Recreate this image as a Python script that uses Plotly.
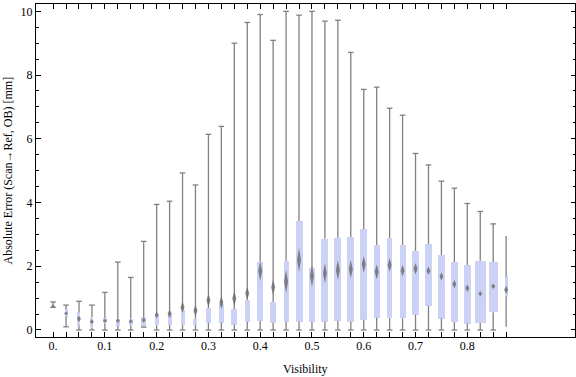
import plotly.graph_objects as go

# ---- data ----
visibility = [0.0, 0.025, 0.05, 0.075, 0.1, 0.125, 0.15, 0.175, 0.2, 0.225, 0.25, 0.275,
              0.3, 0.325, 0.35, 0.375, 0.4, 0.425, 0.45, 0.475, 0.5, 0.525, 0.55, 0.575,
              0.6, 0.625, 0.65, 0.675, 0.7, 0.725, 0.75, 0.775, 0.8, 0.825, 0.85, 0.875]
whisker_high = [0.88, 0.78, 0.90, 0.78, 1.18, 2.13, 1.65, 2.78, 3.94, 4.04, 4.93, 4.55,
                6.14, 6.39, 9.00, 9.65, 9.90, 9.09, 10.0, 9.88, 10.0, 9.69, 9.72, 8.71,
                7.55, 7.62, 6.96, 6.74, 5.54, 5.18, 4.67, 4.45, 3.97, 3.72, 3.33, 2.95]
quart_high = [0.78, 0.65, 0.56, 0.39, 0.38, 0.35, 0.35, 0.40, 0.50, 0.52, 0.63, 0.35,
              0.69, 0.82, 0.66, 0.94, 2.14, 0.88, 2.17, 3.42, 1.94, 2.86, 2.89, 2.92,
              3.17, 2.67, 2.89, 2.67, 2.48, 2.70, 2.35, 2.13, 2.04, 2.17, 2.13, 1.68]
quart_low = [0.72, 0.42, 0.13, 0.08, 0.21, 0.13, 0.15, 0.10, 0.15, 0.16, 0.16, 0.16,
             0.23, 0.23, 0.17, 0.26, 0.29, 0.23, 0.26, 0.26, 0.26, 0.26, 0.29, 0.26,
             0.32, 0.39, 0.37, 0.37, 0.48, 0.76, 0.36, 0.25, 0.20, 0.22, 0.56, 1.05]
whisker_low = [0.71, 0.10, 0.0, 0.0, 0.0, 0.0, 0.0, 0.09, 0.0, 0.0, 0.0, 0.0,
               0.0, 0.0, 0.0, 0.0, 0.0, 0.0, 0.0, 0.0, 0.0, 0.0, 0.0, 0.0,
               0.0, 0.0, 0.0, 0.0, 0.0, 0.0, 0.0, 0.0, 0.0, 0.0, 0.0, 0.10]
mean_value = [0.75, 0.52, 0.35, 0.26, 0.29, 0.29, 0.27, 0.31, 0.47, 0.51, 0.71, 0.61,
              0.93, 0.86, 0.99, 1.15, 1.85, 1.34, 1.52, 2.20, 1.70, 1.78, 1.88, 1.91,
              2.06, 1.83, 2.04, 1.86, 1.92, 1.86, 1.68, 1.44, 1.31, 1.14, 1.37, 1.26]
mean_ci = [0.05, 0.06, 0.10, 0.08, 0.06, 0.07, 0.07, 0.08, 0.10, 0.13, 0.18, 0.18,
           0.21, 0.20, 0.235, 0.21, 0.31, 0.235, 0.37, 0.37, 0.34, 0.31, 0.31, 0.29,
           0.26, 0.235, 0.21, 0.18, 0.18, 0.13, 0.125, 0.13, 0.115, 0.08, 0.085, 0.13]
tick_labels = ["0.", "0.1", "0.2", "0.3", "0.4", "0.5", "0.6", "0.7", "0.8"]
x_title = "Visibility"
y_title = "Absolute Error (Scan→Ref, OB) [mm]"

# ---- styles ----
box_px = [2, 3, 3, 3, 3.7, 4.3, 4.3, 4.7, 4, 4, 4, 4, 5.3, 5, 6, 5, 6.3, 6, 5, 7, 6, 7, 7, 7,
          7, 6, 5.7, 6, 6.3, 6.7, 7, 7.3, 7.3, 11, 9, 3]
PX = 518.0  # pixels per unit of visibility
box_width = [w / PX for w in box_px]
diamond_hw = 2.0 / PX
BOX_COLOR = "#ccd2f5"
WHISK_COLOR = "#808080"
FONT = "Liberation Serif"

fig = go.Figure()

# boxes
fig.add_trace(go.Bar(x=visibility, y=[h - l for h, l in zip(quart_high, quart_low)],
                     base=quart_low, width=box_width, marker=dict(color=BOX_COLOR, line=dict(width=0)),
                     hoverinfo="skip"))

# whiskers
wx, wy = [], []
for x, lo, q1, q3, hi in zip(visibility, whisker_low, quart_low, quart_high, whisker_high):
    wx += [x, x, None, x, x, None]
    wy += [q3, hi, None, lo, q1, None]
fig.add_trace(go.Scatter(x=wx, y=wy, mode="lines", line=dict(color=WHISK_COLOR, width=1.3),
                         hoverinfo="skip"))

# caps (last item has none)
cx = visibility[:-1] + visibility[:-1]
cy = whisker_high[:-1] + whisker_low[:-1]
fig.add_trace(go.Scatter(x=cx, y=cy, mode="markers",
                         marker=dict(symbol="line-ew", size=4, line=dict(color=WHISK_COLOR, width=1.3)),
                         hoverinfo="skip"))

# mean diamonds
dx, dy = [], []
for x, m, h in zip(visibility, mean_value, mean_ci):
    dx += [x, x + diamond_hw, x, x - diamond_hw, x, None]
    dy += [m - h, m, m + h, m, m - h, None]
fig.add_trace(go.Scatter(x=dx, y=dy, mode="lines", fill="toself",
                         fillcolor="rgba(105,105,105,0.8)", line=dict(width=0, color="rgba(105,105,105,0.5)"),
                         hoverinfo="skip"))

label_text = []
for i, v in enumerate(visibility):
    label_text.append(tick_labels[i // 4] if i % 4 == 0 and i // 4 < len(tick_labels) else "")

fig.update_layout(
    width=576, height=377,
    margin=dict(l=36, r=1, t=4, b=40, autoexpand=False),
    paper_bgcolor="white", plot_bgcolor="white",
    showlegend=False,
    font=dict(family=FONT, size=12, color="black"),
    bargap=0,
    annotations=[
        dict(text=x_title, xref="paper", yref="paper", x=0.5, y=-0.0961,
             xanchor="center", yanchor="middle", showarrow=False,
             font=dict(family=FONT, size=12, color="black")),
        dict(text=y_title, xref="paper", yref="paper", x=-0.0538, y=0.5,
             xanchor="center", yanchor="middle", textangle=-90, showarrow=False,
             font=dict(family=FONT, size=12, color="black")),
    ],
)
fig.update_xaxes(
    range=[-0.033, 1.008], tickvals=visibility, ticktext=label_text,
    ticks="inside", ticklen=5, tickwidth=1, tickcolor="black",
    showline=True, linecolor="black", linewidth=1, mirror="allticks",
    showgrid=False, zeroline=False, automargin=False, ticklabelstandoff=-2,
    tickfont=dict(family=FONT, size=12, color="black"),
)
fig.update_yaxes(
    range=[-0.22, 10.23], tickvals=[0, 2, 4, 6, 8, 10],
    ticks="inside", ticklen=4.5, tickwidth=1, tickcolor="black",
    minor=dict(dtick=0.5, tick0=0, ticks="inside", ticklen=2.5, tickcolor="black", tickwidth=1),
    showline=True, linecolor="black", linewidth=1, mirror="allticks",
    showgrid=False, zeroline=False, automargin=False,
    tickfont=dict(family=FONT, size=12, color="black"),
)

fig.write_html("out.html", config={"displayModeBar": False},
               post_script="document.body.style.margin='0px';document.body.style.overflow='hidden';")
